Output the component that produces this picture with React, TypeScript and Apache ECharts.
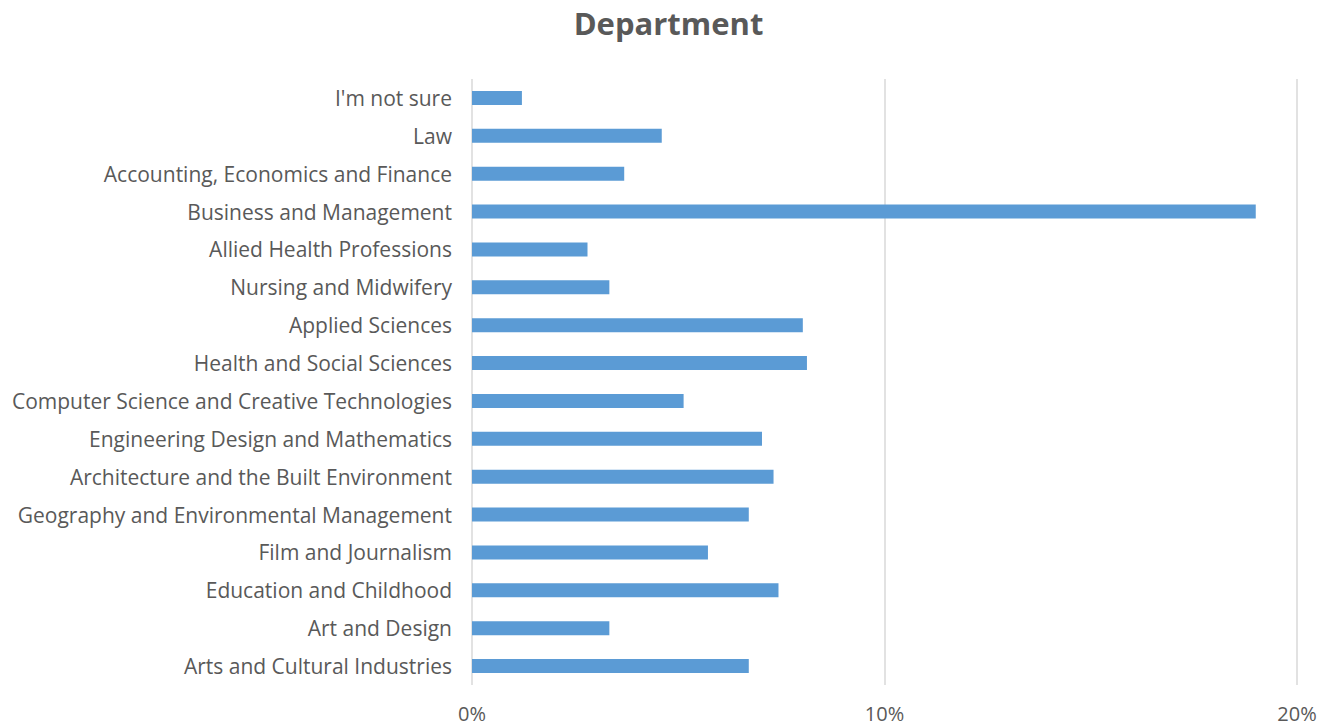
import React, { useEffect, useRef } from "react";
import * as echarts from "echarts";

const categories = [
  "Arts and Cultural Industries",
  "Art and Design",
  "Education and Childhood",
  "Film and Journalism",
  "Geography and Environmental Management",
  "Architecture and the Built Environment",
  "Engineering Design and Mathematics",
  "Computer Science and Creative Technologies",
  "Health and Social Sciences",
  "Applied Sciences",
  "Nursing and Midwifery",
  "Allied Health Professions",
  "Business and Management",
  "Accounting, Economics and Finance",
  "Law",
  "I'm not sure",
];

const values = [6.71, 3.33, 7.43, 5.72, 6.71, 7.31, 7.03, 5.13, 8.12, 8.02, 3.33, 2.8, 19.0, 3.69, 4.6, 1.21];

const xTicks = [0, 10, 20];

export default function App() {
  const ref = useRef<HTMLDivElement>(null);
  useEffect(() => {
    document.body.style.margin = "0";
    const chart = echarts.init(ref.current!, undefined, { renderer: "svg" });
    chart.setOption({
      animation: false,
      backgroundColor: "#ffffff",
      title: {
        text: "Department",
        left: "center",
        top: 2,
        textStyle: {
          fontFamily: "Open Sans",
          fontWeight: "bold",
          fontSize: 31,
          color: "#595959",
        },
      },
      grid: { left: 472, right: 40, top: 79, bottom: 42, containLabel: false },
      xAxis: {
        type: "value",
        min: xTicks[0],
        max: xTicks[xTicks.length - 1],
        interval: 10,
        axisLine: { show: false },
        axisTick: { show: false },
        splitLine: { show: true, lineStyle: { color: "#D9D9D9", width: 1.5 } },
        axisLabel: {
          formatter: (v: number) => `${v}%`,
          fontFamily: "Open Sans",
          fontSize: 20,
          color: "#595959",
          margin: 18,
        },
      },
      yAxis: {
        type: "category",
        data: categories,
        axisLine: { show: false },
        axisTick: { show: false },
        axisLabel: {
          fontFamily: "Open Sans",
          fontSize: 21,
          color: "#595959",
          margin: 20,
        },
      },
      series: [
        {
          type: "bar",
          data: values,
          barWidth: 14,
          itemStyle: { color: "#5B9BD5" },
        },
      ],
    });
    return () => chart.dispose();
  }, []);
  return <div ref={ref} style={{ width: 1337, height: 727 }} />;
}
